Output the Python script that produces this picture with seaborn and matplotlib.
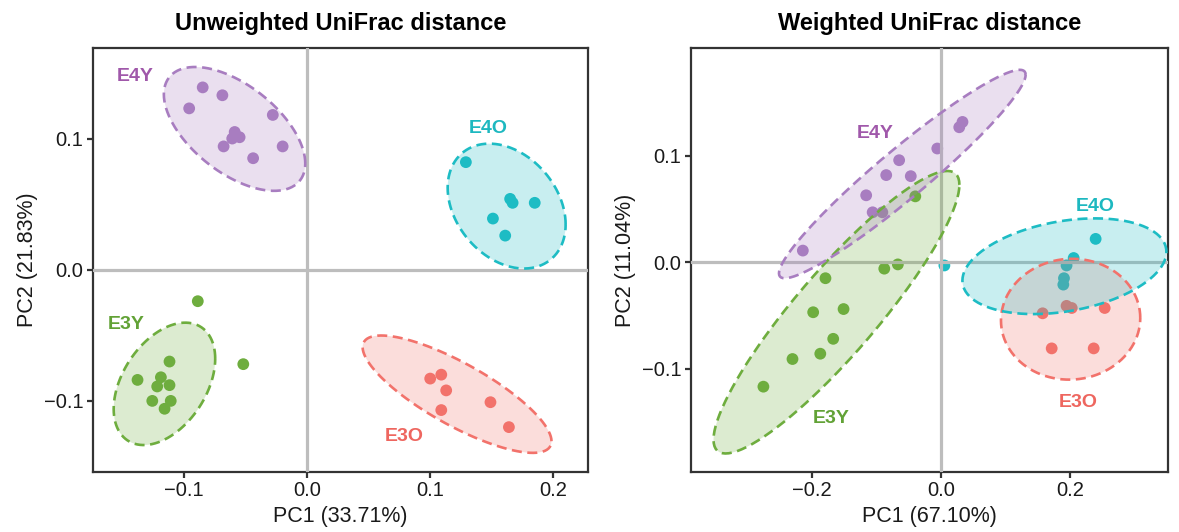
import numpy as np
import pandas as pd
import matplotlib
matplotlib.use("Agg")
import matplotlib.pyplot as plt
import seaborn as sns

# ---------------- data ----------------
groups = ["E3O", "E3Y", "E4O", "E4Y"]

# Unweighted UniFrac PCoA
uw_E4Y_x = [-0.085, -0.069, -0.096, -0.028, -0.059, -0.055, -0.061, -0.068, -0.044, -0.020]
uw_E4Y_y = [0.139, 0.133, 0.123, 0.118, 0.105, 0.101, 0.100, 0.094, 0.085, 0.094]
uw_E4O_x = [0.129, 0.165, 0.167, 0.185, 0.151, 0.161]
uw_E4O_y = [0.082, 0.054, 0.051, 0.051, 0.039, 0.026]
uw_E3Y_x = [-0.089, -0.052, -0.112, -0.138, -0.119, -0.122, -0.112, -0.126, -0.111, -0.116]
uw_E3Y_y = [-0.024, -0.072, -0.070, -0.084, -0.082, -0.089, -0.088, -0.100, -0.100, -0.106]
uw_E3O_x = [0.100, 0.109, 0.113, 0.109, 0.149, 0.164]
uw_E3O_y = [-0.083, -0.080, -0.092, -0.107, -0.101, -0.120]

# Weighted UniFrac PCoA
w_E4Y_x = [-0.214, -0.116, -0.106, -0.091, -0.085, -0.065, -0.047, -0.006, 0.028, 0.033]
w_E4Y_y = [0.011, 0.063, 0.047, 0.047, 0.082, 0.096, 0.081, 0.107, 0.127, 0.132]
w_E4O_x = [0.239, 0.205, 0.194, 0.190, 0.189, 0.005]
w_E4O_y = [0.022, 0.004, -0.003, -0.015, -0.021, -0.003]
w_E3Y_x = [-0.040, -0.179, -0.088, -0.067, -0.198, -0.151, -0.167, -0.230, -0.187, -0.275]
w_E3Y_y = [0.062, -0.015, -0.006, -0.002, -0.047, -0.044, -0.072, -0.091, -0.086, -0.117]
w_E3O_x = [0.157, 0.194, 0.202, 0.253, 0.171, 0.236]
w_E3O_y = [-0.048, -0.041, -0.043, -0.043, -0.081, -0.081]

titles = ["Unweighted UniFrac distance", "Weighted UniFrac distance"]
xlabels = ["PC1 (33.71%)", "PC1 (67.10%)"]
ylabels = ["PC2 (21.83%)", "PC2 (11.04%)"]
xticks = [[-0.1, 0.0, 0.1, 0.2], [-0.2, 0.0, 0.2]]
yticks = [[-0.1, 0.0, 0.1], [-0.1, 0.0, 0.1]]

# group label anchor positions (data units)
uw_label_x = {"E4Y": -0.140, "E4O": 0.147, "E3Y": -0.147, "E3O": 0.079}
uw_label_y = {"E4Y": 0.147, "E4O": 0.108, "E3Y": -0.042, "E3O": -0.127}
w_label_x = {"E4Y": -0.102, "E4O": 0.238, "E3Y": -0.170, "E3O": 0.212}
w_label_y = {"E4Y": 0.121, "E4O": 0.052, "E3Y": -0.147, "E3O": -0.132}

xlims = [(-0.174, 0.228), (-0.387, 0.351)]
ylims = [(-0.154, 0.169), (-0.197, 0.2015)]

palette = {"E3O": "#F2726B", "E3Y": "#6EAD3E", "E4O": "#1DBCC4", "E4Y": "#A87DC0"}
label_colors = {"E3O": "#EE665F", "E3Y": "#62A236", "E4O": "#1DB8C0", "E4Y": "#A058AA"}

def build(prefix):
    g = globals()
    rows = []
    for grp in groups:
        for x, y in zip(g[f"{prefix}_{grp}_x"], g[f"{prefix}_{grp}_y"]):
            rows.append((x, y, grp))
    return pd.DataFrame(rows, columns=["PC1", "PC2", "Group"])

dfs = [build("uw"), build("w")]
labels_pos = [(uw_label_x, uw_label_y), (w_label_x, w_label_y)]

# ---------- ggplot2 stat_ellipse (type = "t") ----------
def cov_trob(X, nu=5, maxit=25, tol=0.01):
    n, p = X.shape
    wt = np.ones(n)
    loc = X.mean(axis=0)
    w = np.sqrt(wt)
    Xc = X - loc
    for _ in range(maxit):
        w0 = w
        Xc = X - loc
        _, d, Vt = np.linalg.svd(np.sqrt(w / w.sum())[:, None] * Xc, full_matrices=False)
        wX = Xc @ Vt.T @ np.diag(1.0 / d)
        Q = (wX ** 2).sum(axis=1)
        w = (wt * (nu + p)) / (nu + Q)
        loc = (w[:, None] * X).sum(axis=0) / w.sum()
        if np.all(np.abs(w - w0) < tol):
            break
    sw = np.sqrt(w)[:, None] * Xc
    cov = sw.T @ sw / wt.sum()
    return loc, cov

def ellipse_path(X, level=0.95, segments=101):
    n = X.shape[0]
    center, shape = cov_trob(X)
    dfn, dfd = 2, n - 1
    # quantile of F(2, dfd)
    fq = (dfd / 2.0) * ((1 - level) ** (-2.0 / dfd) - 1.0)
    radius = np.sqrt(dfn * fq)
    L = np.linalg.cholesky(shape)
    ang = np.linspace(0, 2 * np.pi, segments)
    circ = np.column_stack([np.cos(ang), np.sin(ang)])
    return center + radius * (circ @ L.T)

# ---------------- plotting ----------------
sns.set_theme(style="white")
plt.rcParams["font.family"] = ["Liberation Sans", "DejaVu Sans"]
plt.rcParams["axes.unicode_minus"] = True

fig = plt.figure(figsize=(11.79, 5.32), dpi=100)
axes = [fig.add_axes([0.0791, 0.1133, 0.4193, 0.7964]),
        fig.add_axes([0.5861, 0.1133, 0.4046, 0.7964])]

for i, ax in enumerate(axes):
    df = dfs[i]
    ax.axhline(0, color="#BDBDBD", lw=2.3, zorder=3)
    ax.axvline(0, color="#BDBDBD", lw=2.3, zorder=3)
    sns.scatterplot(data=df, x="PC1", y="PC2", hue="Group", palette=palette,
                    s=72, edgecolor="none", linewidth=0, ax=ax, legend=False, zorder=2)
    for grp in groups:
        sub = df[df["Group"] == grp][["PC1", "PC2"]].to_numpy()
        e = ellipse_path(sub)
        ax.fill(e[:, 0], e[:, 1], color=palette[grp], alpha=0.24, lw=0, zorder=4)
        ax.plot(e[:, 0], e[:, 1], color=palette[grp], lw=1.9, ls=(0, (3.8, 2.1)), zorder=5)
        lx, ly = labels_pos[i]
        ax.text(lx[grp], ly[grp], grp, color=label_colors[grp], fontsize=14,
                fontweight="bold", ha="center", va="center", zorder=6)
    ax.set_xlim(*xlims[i])
    ax.set_ylim(*ylims[i])
    ax.set_xticks(xticks[i])
    ax.set_yticks(yticks[i])
    ax.set_xticklabels([f"{v:.1f}".replace("-", "\u2212") for v in xticks[i]])
    ax.set_yticklabels([f"{v:.1f}".replace("-", "\u2212") for v in yticks[i]])
    ax.tick_params(axis="both", which="major", length=4, width=1.6, color="#333333",
                   labelsize=14.5, labelcolor="#1a1a1a", pad=3, direction="out",
                   bottom=True, left=True)
    for sp in ax.spines.values():
        sp.set_color("#333333")
        sp.set_linewidth(1.6)
        sp.set_visible(True)
    ax.set_xlabel(xlabels[i], fontsize=15.5, color="#1a1a1a", labelpad=4)
    ax.set_ylabel(ylabels[i], fontsize=15.5, color="#1a1a1a", labelpad=4)
    ax.set_title(titles[i], fontsize=17, fontweight="bold", color="#000000", pad=13)

fig.savefig("out.png", dpi=100)
